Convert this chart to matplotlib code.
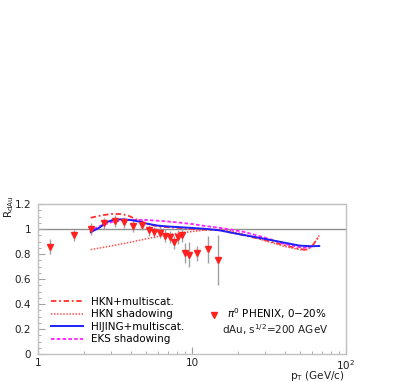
import matplotlib
matplotlib.use('Agg')
import matplotlib.pyplot as plt
from matplotlib.ticker import FixedLocator, MultipleLocator, LogLocator, NullFormatter
from matplotlib.lines import Line2D

# PHENIX pi0 data, d+Au 0-20%
pt_data = [1.2, 1.71, 2.21, 2.68, 3.18, 3.63, 4.16, 4.71, 5.23, 5.66, 6.2,
           6.64, 7.16, 7.6, 8.07, 8.61, 9.05, 9.6, 10.8, 12.7, 14.7]
r_data = [0.86, 0.95, 1.0, 1.045, 1.065, 1.055, 1.025, 1.035, 0.99, 0.975,
          0.972, 0.947, 0.938, 0.893, 0.938, 0.955, 0.808, 0.795, 0.808,
          0.838, 0.752]
r_err = [0.06, 0.045, 0.05, 0.045, 0.045, 0.045, 0.045, 0.045, 0.045, 0.045,
         0.045, 0.05, 0.05, 0.05, 0.055, 0.06, 0.08, 0.1, 0.06, 0.11, 0.2]

# model curves
pt_hkn_ms = [2.2, 2.6, 3.0, 3.4, 3.8, 4.3, 5.0, 6.0, 8.0, 10, 15, 20, 30, 40,
             50, 55, 60, 65, 67]
r_hkn_ms = [1.09, 1.11, 1.12, 1.12, 1.11, 1.08, 1.045, 1.02, 1.01, 1.0, 0.99,
            0.96, 0.91, 0.87, 0.84, 0.835, 0.86, 0.92, 0.95]

pt_hkn = [2.2, 3.0, 4.0, 5.0, 6.0, 8.0, 10, 13, 16, 20, 30, 40, 50, 55, 60,
          65, 67]
r_hkn = [0.835, 0.865, 0.895, 0.92, 0.94, 0.965, 0.98, 0.995, 0.995, 0.97,
         0.905, 0.86, 0.835, 0.83, 0.86, 0.92, 0.95]

pt_hij = [2.2, 2.5, 2.8, 3.1, 3.5, 4.0, 4.5, 5.0, 6.0, 7.0, 9.0, 12, 15, 20,
          30, 40, 50, 60, 67]
r_hij = [0.975, 1.01, 1.055, 1.075, 1.077, 1.072, 1.06, 1.045, 1.027, 1.02,
         1.012, 1.002, 0.99, 0.96, 0.92, 0.89, 0.867, 0.862, 0.864]

pt_eks = [2.3, 2.6, 3.0, 3.5, 4.0, 5.0, 6.0, 7.0, 8.0, 10, 12, 15, 18, 22,
          30, 40, 50, 55, 60]
r_eks = [1.0, 1.03, 1.055, 1.068, 1.073, 1.072, 1.066, 1.06, 1.053, 1.04,
         1.025, 1.01, 0.995, 0.975, 0.93, 0.88, 0.855, 0.85, 0.86]

x_ticks = [1, 10, 100]
x_tick_labels = ['1', '10', '$10^2$']
y_ticks = [0, 0.2, 0.4, 0.6, 0.8, 1, 1.2]
y_tick_labels = ['0', '0.2', '0.4', '0.6', '0.8', '1', '1.2']

GRAY = '#a0a0a0'
RED = '#ff2020'
TXT = '#202020'

fig = plt.figure(figsize=(4.15, 3.82), dpi=100)
ax = fig.add_axes([38 / 415, 28 / 382, 308 / 415, 150 / 382])

ax.set_xscale('log')
ax.set_xlim(1, 100)
ax.set_ylim(0, 1.2)

ax.axhline(1.0, color='#909090', lw=1.0, zorder=1)

ax.errorbar(pt_data, r_data, yerr=r_err, fmt='none', ecolor=GRAY,
            elinewidth=1.0, capsize=0, zorder=2)
ax.plot(pt_data, r_data, 'v', color=RED, markersize=4, zorder=5)

l_hkn_ms, = ax.plot(pt_hkn_ms, r_hkn_ms, color='#ff3030', lw=1.3,
                    linestyle=(0, (3, 1.5, 1, 1.5)), zorder=3)
l_hkn, = ax.plot(pt_hkn, r_hkn, color='#ff5050', lw=1.1,
                 linestyle=(0, (1, 1)), zorder=3)
l_hij, = ax.plot(pt_hij, r_hij, color='#2020ff', lw=1.4, zorder=4)
l_eks, = ax.plot(pt_eks, r_eks, color='#ff20ff', lw=1.3,
                 linestyle=(0, (2, 1.2)), zorder=3)

ax.xaxis.set_major_locator(FixedLocator(x_ticks))
ax.set_xticklabels(x_tick_labels)
ax.xaxis.set_minor_locator(LogLocator(base=10, subs=range(2, 10)))
ax.xaxis.set_minor_formatter(NullFormatter())
ax.yaxis.set_major_locator(FixedLocator(y_ticks))
ax.set_yticklabels(y_tick_labels)
ax.yaxis.set_minor_locator(MultipleLocator(0.05))

ax.tick_params(which='both', direction='in', color=GRAY, labelsize=7.5,
               labelcolor=TXT, top=False, right=False)
ax.tick_params(which='major', length=5)
ax.tick_params(which='minor', length=2.5)
ax.tick_params(axis='x', pad=3)
ax.tick_params(axis='y', pad=5)
for sp in ax.spines.values():
    sp.set_color('#c0c0c0')
    sp.set_linewidth(1.0)

# axis titles placed like the ROOT original
fig.text(345 / 415, (382 - 376) / 382, r'p$_{\rm T}$ (GeV/c)', fontsize=7.5,
         color=TXT, ha='right', va='center')
fig.text(9 / 415, (382 - 207) / 382, r'R$_{\rm dAu}$', rotation=90,
         fontsize=7.5, color=TXT, ha='center', va='center')

leg = ax.legend([l_hkn_ms, l_hkn, l_hij, l_eks],
                ['HKN+multiscat.', 'HKN shadowing', 'HIJING+multiscat.',
                 'EKS shadowing'],
                loc='upper left', bbox_to_anchor=(0.03, 0.41), frameon=False,
                fontsize=7.5, handlelength=3.0, handletextpad=0.8,
                labelspacing=0.25, borderaxespad=0)
ax.add_artist(leg)

marker_handle = Line2D([], [], marker='v', color=RED, linestyle='none',
                       markersize=4)
ax.legend([marker_handle], ['$\\pi^0$ PHENIX, 0$-$20%'],
          loc='upper left', bbox_to_anchor=(0.54, 0.345), frameon=False,
          fontsize=7.5, handlelength=1.0, handletextpad=0.8, borderaxespad=0)
fig.text(222 / 415, (382 - 330) / 382, 'dAu, s$^{1/2}$=200 AGeV',
         fontsize=7.5, color=TXT, ha='left', va='center')

fig.savefig('out.png', dpi=100)
